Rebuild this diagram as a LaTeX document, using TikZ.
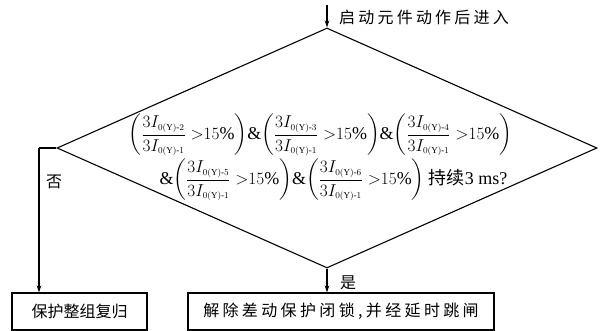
\documentclass[tikz,border=0pt]{standalone}
\usepackage{amsmath}
\usepackage{fontspec}
\setmainfont{Liberation Serif}
\newfontfamily\cjk{Noto Sans CJK SC}
\newfontfamily\cjkwide[LetterSpace=21]{Noto Sans CJK SC}
\newfontfamily\cjktop[LetterSpace=20]{Noto Sans CJK SC}
\usetikzlibrary{shapes.geometric,arrows.meta}
\newcommand{\sbx}[1]{{\scriptscriptstyle 0(\mathrm{Y})\text{-}#1}}
\newcommand{\rr}[1]{{\left(\dfrac{3I_{\sbx{#1}}}{3I_{\sbx{1}}}\;{>}15\%\right)}}
\begin{document}
\begin{tikzpicture}[x=1pt,y=-1pt,
  line/.style={line width=1.1pt},
  arr/.style={line, -{Stealth[length=7pt,width=4.5pt]}},
  box/.style={draw, line width=1.1pt, minimum height=37pt, inner sep=0pt},
  lbl/.style={font=\cjk\fontsize{16}{18}\selectfont, inner sep=0pt},
  formula/.style={font=\fontsize{18}{20}\selectfont, inner sep=0pt}]
\useasboundingbox (0,0) rectangle (600,331);
\node[draw, line, shape=diamond, minimum width=540pt, minimum height=240pt, shape aspect=2.25, inner sep=0pt] (d) at (327,148) {};
\coordinate (start) at (327,5);
\node[lbl, font=\cjktop\fontsize{16}{18}\selectfont, anchor=west] (top) at (339,17) {启动元件动作后进入};
\node[formula] (f1) at (320.5,135) {$\rr{2}\&\rr{3}\&\rr{4}$};
\node[formula] (f2) at (333.5,180) {$\&\rr{5}\&\rr{6}$\ {\cjk 持续}3 ms?};
\node[box, minimum width=135pt, font=\cjk\fontsize{16}{18}\selectfont] (no) at (79.5,311.5) {保护整组复归};
\node[box, minimum width=306pt, font=\cjkwide\fontsize{16}{18}\selectfont] (yes) at (341,311.5) {解除差动保护闭锁,并经延时跳闸};
\coordinate (lc) at (39,148);
\draw[arr] (start) -- (d.north);
\draw[line] (d.west) -- (lc);
\draw[arr] (lc) -- (lc |- no.north);
\draw[arr] (d.south) -- (d.south |- yes.north);
\node[lbl] (nolbl) at (54,182) {否};
\node[lbl] (yeslbl) at (348,283) {是};
\end{tikzpicture}
\end{document}
